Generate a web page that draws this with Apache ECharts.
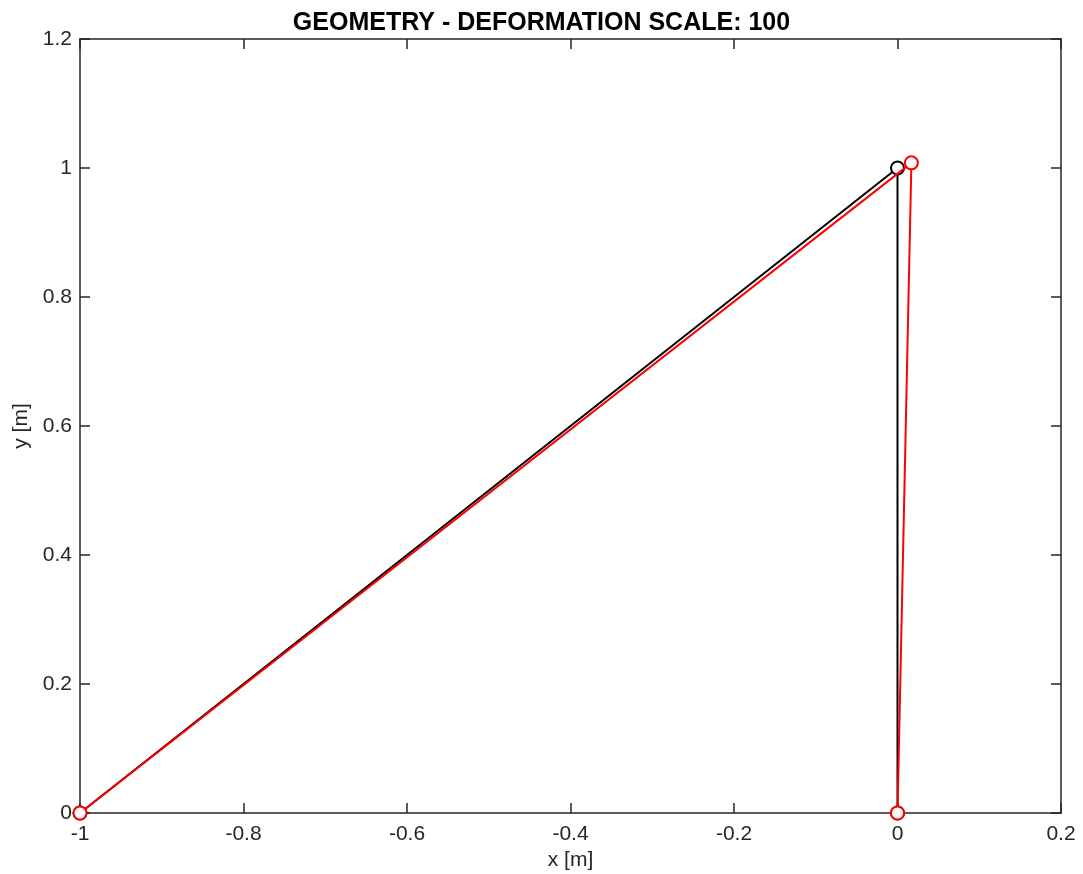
<!DOCTYPE html>
<html>
<head>
<meta charset="utf-8">
<script src="https://cdn.jsdelivr.net/npm/echarts@6/dist/echarts.min.js"></script>
<style>html,body{margin:0;padding:0;background:#fff;}#c{width:1083px;height:874px;}</style>
</head>
<body>
<div id="c"></div>
<script>
var titleText = 'GEOMETRY - DEFORMATION SCALE: 100';
var xName = 'x [m]';
var yName = 'y [m]';
// node coordinates along the element path: node1 -> node2 -> node3
var originalX = [-1, 0, 0];
var originalY = [0, 1, 0];
var deformedX = [-1, 0.017, 0];
var deformedY = [0, 1.008, 0];

function pts(xs, ys){ return xs.map(function(x,i){ return [x, ys[i]]; }); }

var font = 'Liberation Sans, Arial, Helvetica, sans-serif';
var axisCol = '#262626';
var chart = echarts.init(document.getElementById('c'), null, {renderer:'canvas'});
var common = {
  axisLine:{show:true, onZero:false, lineStyle:{color:axisCol, width:1.5}},
  axisTick:{show:true, inside:true, length:10, lineStyle:{color:axisCol, width:1.5}},
  splitLine:{show:false}
};
chart.setOption({
  animation:false,
  backgroundColor:'#fff',
  title:{text:titleText, left:'center', top:6,
    textStyle:{fontFamily:font, fontWeight:'bold', fontSize:25, color:'#000'}},
  grid:{left:80, right:22, top:39, bottom:61, containLabel:false, outerBoundsMode:'none'},
  xAxis:[
    Object.assign({type:'value', position:'bottom', min:-1, max:0.2, interval:0.2,
      name:xName, nameLocation:'middle', nameGap:32,
      nameTextStyle:{fontFamily:font, fontSize:21, color:axisCol},
      axisLabel:{fontFamily:font, fontSize:21, color:axisCol, margin:11}}, common),
    Object.assign({type:'value', position:'top', min:-1, max:0.2, interval:0.2,
      axisLabel:{show:false}}, common)
  ],
  yAxis:[
    Object.assign({type:'value', position:'left', min:0, max:1.2, interval:0.2,
      name:yName, nameLocation:'middle', nameGap:43, nameRotate:90,
      nameTextStyle:{fontFamily:font, fontSize:21, color:axisCol},
      axisLabel:{fontFamily:font, fontSize:21, color:axisCol, margin:8}}, common),
    Object.assign({type:'value', position:'right', min:0, max:1.2, interval:0.2,
      axisLabel:{show:false}}, common)
  ],
  series:[
    {type:'line', data:pts(originalX, originalY), symbol:'emptyCircle', symbolSize:13,
      lineStyle:{color:'#000', width:2}, itemStyle:{color:'#000', borderWidth:2}, z:2},
    {type:'line', data:pts(deformedX, deformedY), symbol:'emptyCircle', symbolSize:13,
      lineStyle:{color:'#ff0000', width:2}, itemStyle:{color:'#ff0000', borderWidth:2}, z:3}
  ]
});
</script>
</body>
</html>
